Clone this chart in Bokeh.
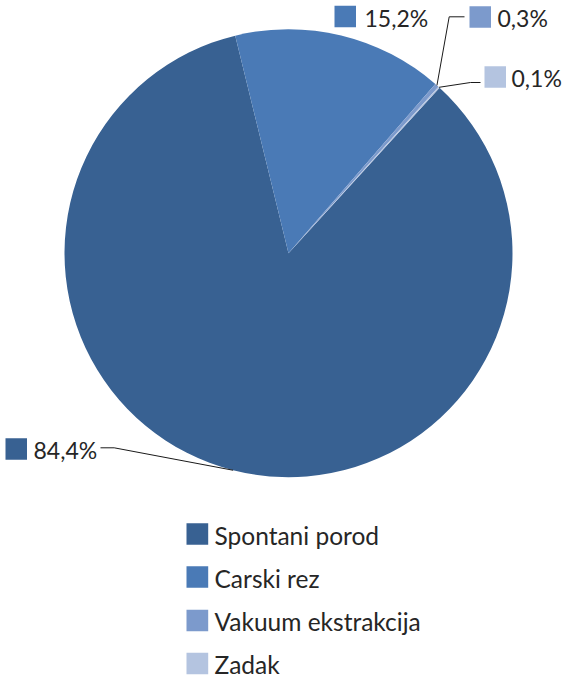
import math
from bokeh.plotting import figure
from bokeh.models import Range1d, ColumnDataSource
from bokeh.core.properties import value
from bokeh.embed import file_html
from bokeh.resources import INLINE

# ---- data ----
categories = ["Spontani porod", "Carski rez", "Vakuum ekstrakcija", "Zadak"]
shares = [84.4, 15.2, 0.3, 0.1]
share_labels = ["84,4%", "15,2%", "0,3%", "0,1%"]
colors = ["#386192", "#4a7ab6", "#7c9acc", "#b4c4e0"]

# ---- layout ----
W, H = 564, 679
REF_H = 695
FIRST_ANGLE = 42.4          # degrees clockwise from 12 o'clock
CX, CY_REF, R = 296.0, 260.7, 224.0
FONT = value("Lato")
FS = "23px"
LFS = "24.5px"
TXT = "#262626"

def Y(yref):
    return REF_H - yref

p = figure(width=W, height=H, output_backend="svg", toolbar_location=None,
           x_range=Range1d(8, 8 + W), y_range=Range1d(REF_H - 8 - H, REF_H - 8),
           min_border=0)
p.axis.visible = False
p.grid.visible = False
p.outline_line_color = None
p.background_fill_color = "white"
p.border_fill_color = "white"

# pie wedges
total = sum(shares)
starts, ends, mids = [], [], []
a = FIRST_ANGLE
for s in shares:
    span = 360.0 * s / total
    starts.append(math.radians(90 - a))
    ends.append(math.radians(90 - (a + span)))
    mids.append(a + span / 2)
    a += span

src = ColumnDataSource(dict(start=starts, end=ends, color=colors))
p.wedge(x=CX, y=Y(CY_REF), radius=R, start_angle="start", end_angle="end",
        direction="clock", fill_color="color", line_color=None, source=src)

def edge(deg):
    t = math.radians(deg)
    return CX + R * math.sin(t), CY_REF - R * math.cos(t)

# data label positions (ref pixel coords): key box (left, center y), text left
label_pos = [
    dict(kx=13, cy=456.5, tx=41),    # 84,4%
    dict(kx=342, cy=24, tx=372),     # 15,2%
    dict(kx=477, cy=24.5, tx=505),   # 0,3%
    dict(kx=492, cy=84.5, tx=519),   # 0,1%
]
KS = 21.5
for i, lp in enumerate(label_pos):
    l, c = lp["kx"], lp["cy"]
    p.quad(left=l, right=l + KS, top=Y(c - KS / 2), bottom=Y(c + KS / 2),
           fill_color=colors[i], line_color=None)
    p.text(x=[lp["tx"]], y=[Y(c + 1)], text=[share_labels[i]],
           text_font=FONT, text_font_size=FS, text_color=TXT,
           text_baseline="middle", text_align="left")

# leader lines
ex, ey = edge(mids[0])
p.line(x=[108, 121.7, ex], y=[Y(455.3), Y(455.3), Y(ey)], line_color="#1a1a1a", line_width=1)
ex, ey = edge(mids[2])
p.line(x=[472, 456.7, ex], y=[Y(24.3), Y(24.3), Y(ey)], line_color="#1a1a1a", line_width=1)
ex, ey = edge(mids[3])
p.line(x=[ex, 478, 488], y=[Y(ey), Y(90), Y(90)], line_color="#1a1a1a", line_width=1)

# legend
leg_center = [541.5, 584.5, 628, 671]
for i, cat in enumerate(categories):
    c = leg_center[i]
    p.quad(left=194, right=215.7, top=Y(c - KS / 2), bottom=Y(c + KS / 2),
           fill_color=colors[i], line_color=None)
    p.text(x=[222], y=[Y(c + 1)], text=[cat], text_font=FONT, text_font_size=LFS,
           text_color=TXT, text_baseline="middle", text_align="left")

open("out.html", "w").write(file_html(p, INLINE))
